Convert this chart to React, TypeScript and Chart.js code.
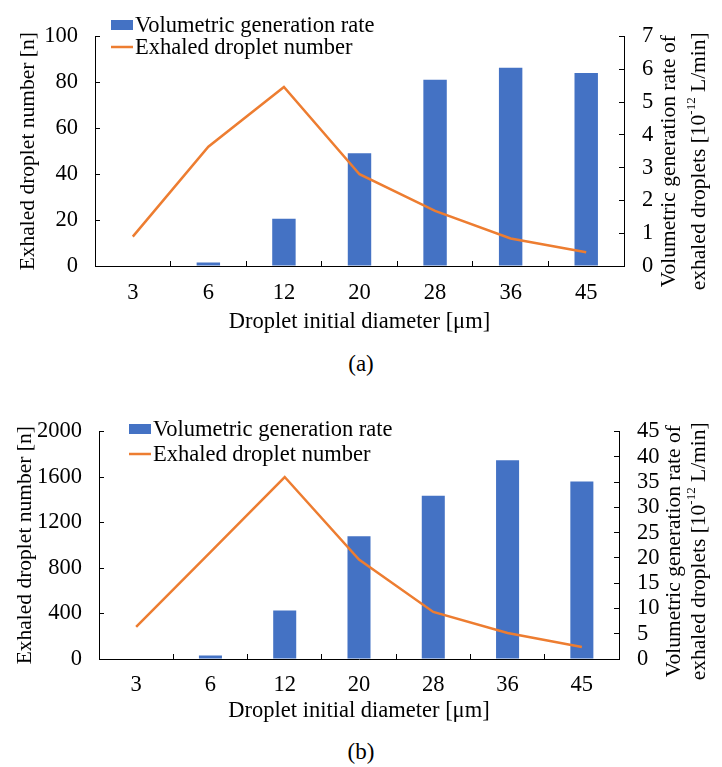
import { useEffect, useRef } from "react";
import { Chart, registerables } from "chart.js";

Chart.register(...registerables);

const diameters = ["3", "6", "12", "20", "28", "36", "45"];

// panel (a)
const dropletNumberA = [12.8, 52, 78, 40, 24, 12, 6];
const generationRateA = [0, 0.11, 1.44, 3.44, 5.68, 6.05, 5.89];

// panel (b)
const dropletNumberB = [282, 940, 1600, 875, 414, 228, 106];
const generationRateB = [0, 0.7, 9.6, 24.3, 32.3, 39.3, 35.1];

const FONT = "'Liberation Serif', 'Times New Roman', serif";
const BLUE = "#4472C4";
const ORANGE = "#ED7D31";
const TEXT_SIZE = 22.5;

// draws the legend inside the plot, two rows stacked like the Excel original
const insideLegend = {
  id: "insideLegend",
  afterDatasetsDraw(chart: any, _args: any, opts: any) {
    const ctx = chart.ctx;
    const ds = chart.data.datasets;
    const bar = ds.find((d: any) => d.type === "bar");
    const line = ds.find((d: any) => d.type === "line");
    ctx.save();
    ctx.font = `${TEXT_SIZE}px ${FONT}`;
    ctx.textBaseline = "middle";
    ctx.textAlign = "left";
    ctx.fillStyle = bar.backgroundColor;
    ctx.fillRect(opts.x, opts.y - 5, 22, 10);
    ctx.fillStyle = "#000";
    ctx.fillText(bar.label, opts.x + 24, opts.y + 1);
    const y2 = opts.y + opts.gap;
    ctx.strokeStyle = line.borderColor;
    ctx.lineWidth = 2.5;
    ctx.beginPath();
    ctx.moveTo(opts.x, y2);
    ctx.lineTo(opts.x + 22, y2);
    ctx.stroke();
    ctx.fillText(line.label, opts.x + 24, y2 + 1);
    ctx.restore();
  },
};

// right axis title reads bottom-to-top and has a superscript, so draw it by hand
const rightTitle = {
  id: "rightTitle",
  afterDraw(chart: any, _args: any, opts: any) {
    const ctx = chart.ctx;
    const area = chart.chartArea;
    const cy = (area.top + area.bottom) / 2 + opts.dy;
    const big = `21.5px ${FONT}`;
    const small = `13px ${FONT}`;
    ctx.save();
    ctx.fillStyle = "#000";
    ctx.textBaseline = "middle";

    ctx.save();
    ctx.translate(opts.x1, cy);
    ctx.rotate(-Math.PI / 2);
    ctx.font = big;
    ctx.textAlign = "center";
    ctx.fillText(opts.line1, 0, 0);
    ctx.restore();

    ctx.save();
    ctx.translate(opts.x2, cy);
    ctx.rotate(-Math.PI / 2);
    ctx.textAlign = "left";
    const [pre, sup, post] = opts.line2;
    ctx.font = big;
    const w1 = ctx.measureText(pre).width;
    const w3 = ctx.measureText(post).width;
    ctx.font = small;
    const w2 = ctx.measureText(sup).width;
    let x = -(w1 + w2 + w3) / 2;
    ctx.font = big;
    ctx.fillText(pre, x, 0);
    x += w1;
    ctx.font = small;
    ctx.fillText(sup, x, -7);
    x += w2;
    ctx.font = big;
    ctx.fillText(post, x, 0);
    ctx.restore();

    ctx.restore();
  },
};

type Panel = {
  numbers: number[];
  rates: number[];
  leftMax: number;
  leftStep: number;
  rightMax: number;
  rightStep: number;
  height: number;
  padTop: number;
  leftWidth: number;
  rightWidth: number;
  xHeight: number;
  xTickPad: number;
  xTitlePad: number;
  leftTickPad: number;
  leftTitlePad: number;
  rightTickPad: number;
  legendX: number;
  legendY: number;
  legendGap: number;
  titleX1: number;
  titleX2: number;
  titleDy: number;
};

function DropletChart({ p }: { p: Panel }) {
  const chartRef = useRef<HTMLCanvasElement>(null);
  const chartInstance = useRef<Chart | null>(null);

  useEffect(() => {
    if (chartInstance.current) {
      chartInstance.current.destroy();
    }
    const ctx = chartRef.current?.getContext("2d");
    if (!ctx) return;

    const textFont = { family: FONT, size: TEXT_SIZE };
    const axisGrid = { drawOnChartArea: false, drawTicks: true, tickLength: -5, color: "#000" };
    const border = { color: "#000", width: 1 };
    const plain = (v: any) => String(v); // no thousands separator

    chartInstance.current = new Chart(ctx, {
      type: "bar",
      data: {
        labels: diameters,
        datasets: [
          {
            type: "line",
            label: "Exhaled droplet number",
            data: p.numbers,
            yAxisID: "y",
            borderColor: ORANGE,
            backgroundColor: ORANGE,
            borderWidth: 2.5,
            pointRadius: 0,
            tension: 0,
            order: 0,
          },
          {
            type: "bar",
            label: "Volumetric generation rate",
            data: p.rates,
            yAxisID: "y1",
            backgroundColor: BLUE,
            categoryPercentage: 1,
            barPercentage: 0.31,
            order: 1,
          },
        ] as any,
      },
      options: {
        responsive: true,
        maintainAspectRatio: false,
        animation: false,
        layout: { padding: { top: p.padTop, left: 0, right: 0, bottom: 0 } },
        plugins: {
          legend: { display: false },
          tooltip: { enabled: false },
          insideLegend: { x: p.legendX, y: p.legendY, gap: p.legendGap },
          rightTitle: {
            x1: p.titleX1,
            x2: p.titleX2,
            dy: p.titleDy,
            line1: "Volumetric generation rate of",
            line2: ["exhaled droplets [10", "-12", " L/min]"],
          },
        } as any,
        scales: {
          x: {
            offset: true,
            grid: { ...axisGrid, offset: true },
            border,
            ticks: { font: textFont, color: "#000", padding: p.xTickPad, maxRotation: 0 },
            title: {
              display: true,
              text: "Droplet initial diameter [μm]",
              font: textFont,
              color: "#000",
              padding: { top: 0, bottom: p.xTitlePad },
            },
            afterFit: (scale: any) => {
              scale.height = p.xHeight;
            },
          },
          y: {
            position: "left",
            min: 0,
            max: p.leftMax,
            grid: axisGrid,
            border,
            ticks: {
              stepSize: p.leftStep,
              autoSkip: false,
              callback: plain,
              font: textFont,
              color: "#000",
              padding: p.leftTickPad,
            },
            title: {
              display: true,
              text: "Exhaled droplet number [n]",
              font: { family: FONT, size: 21.5 },
              color: "#000",
              padding: { top: p.leftTitlePad, bottom: 0 },
            },
            afterFit: (scale: any) => {
              scale.width = p.leftWidth;
            },
          },
          y1: {
            position: "right",
            min: 0,
            max: p.rightMax,
            grid: axisGrid,
            border,
            ticks: {
              stepSize: p.rightStep,
              autoSkip: false,
              callback: plain,
              font: textFont,
              color: "#000",
              padding: p.rightTickPad,
            },
            afterFit: (scale: any) => {
              scale.width = p.rightWidth;
            },
          },
        },
      },
      plugins: [insideLegend, rightTitle],
    });

    return () => {
      if (chartInstance.current) {
        chartInstance.current.destroy();
        chartInstance.current = null;
      }
    };
  }, [p]);

  return (
    <div style={{ width: 722, height: p.height }}>
      <canvas ref={chartRef} />
    </div>
  );
}

const panelA: Panel = {
  numbers: dropletNumberA,
  rates: generationRateA,
  leftMax: 100,
  leftStep: 20,
  rightMax: 7,
  rightStep: 1,
  height: 345,
  padTop: 18,
  leftWidth: 95,
  rightWidth: 98,
  xHeight: 79,
  xTickPad: 18.5,
  xTitlePad: 9.5,
  leftTickPad: 22,
  leftTitlePad: 15,
  rightTickPad: 23,
  legendX: 111,
  legendY: 25,
  legendGap: 22,
  titleX1: 669,
  titleX2: 699,
  titleDy: 10,
};

const panelB: Panel = {
  numbers: dropletNumberB,
  rates: generationRateB,
  leftMax: 2000,
  leftStep: 400,
  rightMax: 45,
  rightStep: 5,
  height: 335,
  padTop: 30,
  leftWidth: 99,
  rightWidth: 103,
  xHeight: 71,
  xTickPad: 17.5,
  xTitlePad: 5,
  leftTickPad: 22,
  leftTitlePad: 12,
  rightTickPad: 23,
  legendX: 129,
  legendY: 34,
  legendGap: 25,
  titleX1: 674,
  titleX2: 699,
  titleDy: 6,
};

export default function App() {
  useEffect(() => {
    document.body.style.margin = "0";
  }, []);

  const caption = {
    position: "absolute" as const,
    left: 0,
    width: 722,
    textAlign: "center" as const,
    fontFamily: FONT,
    fontSize: 23,
    lineHeight: "26px",
    color: "#000",
  };

  return (
    <div style={{ position: "relative", width: 722, height: 767, background: "#fff" }}>
      <div style={{ position: "absolute", left: 0, top: 0 }}>
        <DropletChart p={panelA} />
      </div>
      <div style={{ ...caption, top: 364 - 13 }}>(a)</div>
      <div style={{ position: "absolute", left: 0, top: 395 }}>
        <DropletChart p={panelB} />
      </div>
      <div style={{ ...caption, top: 752 - 13 }}>(b)</div>
    </div>
  );
}
